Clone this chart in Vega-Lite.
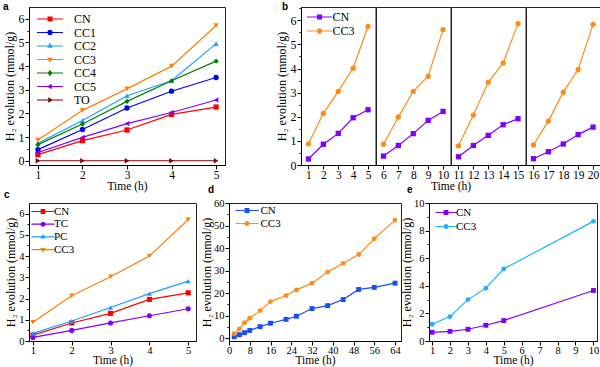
{
"$schema": "https://vega.github.io/schema/vega-lite/v6.json",
"autosize": {"type": "pad"},
"padding": {"left": 2, "top": 1, "right": 0, "bottom": 0},
"background": "white",
"config": {
  "font": "Liberation Serif",
  "view": {"stroke": "#222", "strokeWidth": 1},
  "axis": {"grid": false, "domainColor": "#000", "tickColor": "#000", "labelColor": "#000", "titleColor": "#000", "labelFont": "Liberation Serif", "titleFont": "Liberation Serif", "titleFontWeight": "normal", "labelFontSize": 12, "titleFontSize": 12, "tickSize": 4, "labelPadding": 1, "titlePadding": 2, "labelFlush": false, "labelOverlap": false, "labelBound": false},
  "axisX": {"titlePadding": 0, "labelPadding": 0, "titleFontWeight": "normal", "labelFontSize": 11.5, "titleFontSize": 11.5},
  "axisY": {"titleFontWeight": "normal"},
  "legend": {"labelFont": "Liberation Serif", "labelColor": "#000"},
  "title": {"font": "Liberation Sans", "fontSize": 10, "fontWeight": "bold", "color": "#000"}
},
"datasets": {
  "a": [
    {"s":"CN","t":1,"v":0.26},{"s":"CN","t":2,"v":0.85},{"s":"CN","t":3,"v":1.30},{"s":"CN","t":4,"v":1.96},{"s":"CN","t":5,"v":2.27},
    {"s":"CC1","t":1,"v":0.47},{"s":"CC1","t":2,"v":1.32},{"s":"CC1","t":3,"v":2.23},{"s":"CC1","t":4,"v":2.94},{"s":"CC1","t":5,"v":3.52},
    {"s":"CC2","t":1,"v":0.74},{"s":"CC2","t":2,"v":1.70},{"s":"CC2","t":3,"v":2.75},{"s":"CC2","t":4,"v":3.38},{"s":"CC2","t":5,"v":4.95},
    {"s":"CC3","t":1,"v":0.88},{"s":"CC3","t":2,"v":2.13},{"s":"CC3","t":3,"v":3.04},{"s":"CC3","t":4,"v":4.00},{"s":"CC3","t":5,"v":5.72},
    {"s":"CC4","t":1,"v":0.68},{"s":"CC4","t":2,"v":1.55},{"s":"CC4","t":3,"v":2.51},{"s":"CC4","t":4,"v":3.38},{"s":"CC4","t":5,"v":4.21},
    {"s":"CC5","t":1,"v":0.35},{"s":"CC5","t":2,"v":0.99},{"s":"CC5","t":3,"v":1.57},{"s":"CC5","t":4,"v":2.04},{"s":"CC5","t":5,"v":2.57},
    {"s":"TO","t":1,"v":0},{"s":"TO","t":2,"v":0},{"s":"TO","t":3,"v":0},{"s":"TO","t":4,"v":0},{"s":"TO","t":5,"v":0}
  ],
  "b": [
    {"p":1,"s":"CN","t":1,"v":0.25},{"p":1,"s":"CN","t":2,"v":0.86},{"p":1,"s":"CN","t":3,"v":1.31},{"p":1,"s":"CN","t":4,"v":1.96},{"p":1,"s":"CN","t":5,"v":2.29},
    {"p":1,"s":"CC3","t":1,"v":0.88},{"p":1,"s":"CC3","t":2,"v":2.14},{"p":1,"s":"CC3","t":3,"v":3.05},{"p":1,"s":"CC3","t":4,"v":4.01},{"p":1,"s":"CC3","t":5,"v":5.75},
    {"p":2,"s":"CN","t":6,"v":0.37},{"p":2,"s":"CN","t":7,"v":0.81},{"p":2,"s":"CN","t":8,"v":1.30},{"p":2,"s":"CN","t":9,"v":1.85},{"p":2,"s":"CN","t":10,"v":2.22},
    {"p":2,"s":"CC3","t":6,"v":0.86},{"p":2,"s":"CC3","t":7,"v":1.99},{"p":2,"s":"CC3","t":8,"v":3.05},{"p":2,"s":"CC3","t":9,"v":3.68},{"p":2,"s":"CC3","t":10,"v":5.61},
    {"p":3,"s":"CN","t":11,"v":0.34},{"p":3,"s":"CN","t":12,"v":0.81},{"p":3,"s":"CN","t":13,"v":1.23},{"p":3,"s":"CN","t":14,"v":1.67},{"p":3,"s":"CN","t":15,"v":1.92},
    {"p":3,"s":"CC3","t":11,"v":0.79},{"p":3,"s":"CC3","t":12,"v":2.07},{"p":3,"s":"CC3","t":13,"v":3.43},{"p":3,"s":"CC3","t":14,"v":4.23},{"p":3,"s":"CC3","t":15,"v":5.86},
    {"p":4,"s":"CN","t":16,"v":0.26},{"p":4,"s":"CN","t":17,"v":0.55},{"p":4,"s":"CN","t":18,"v":0.87},{"p":4,"s":"CN","t":19,"v":1.26},{"p":4,"s":"CN","t":20,"v":1.57},
    {"p":4,"s":"CC3","t":16,"v":0.83},{"p":4,"s":"CC3","t":17,"v":1.82},{"p":4,"s":"CC3","t":18,"v":3.02},{"p":4,"s":"CC3","t":19,"v":3.96},{"p":4,"s":"CC3","t":20,"v":5.83}
  ],
  "c": [
    {"s":"CN","t":1,"v":0.28},{"s":"CN","t":2,"v":0.85},{"s":"CN","t":3,"v":1.30},{"s":"CN","t":4,"v":1.96},{"s":"CN","t":5,"v":2.27},
    {"s":"TC","t":1,"v":0.17},{"s":"TC","t":2,"v":0.50},{"s":"TC","t":3,"v":0.85},{"s":"TC","t":4,"v":1.19},{"s":"TC","t":5,"v":1.52},
    {"s":"PC","t":1,"v":0.36},{"s":"PC","t":2,"v":0.94},{"s":"PC","t":3,"v":1.58},{"s":"PC","t":4,"v":2.23},{"s":"PC","t":5,"v":2.82},
    {"s":"CC3","t":1,"v":0.88},{"s":"CC3","t":2,"v":2.13},{"s":"CC3","t":3,"v":3.03},{"s":"CC3","t":4,"v":4.00},{"s":"CC3","t":5,"v":5.72}
  ],
  "d": [
    {"s":"CN","t":2,"v":0.6},{"s":"CN","t":4,"v":1.5},{"s":"CN","t":6,"v":2.4},{"s":"CN","t":8,"v":3.4},{"s":"CN","t":12,"v":5.1},{"s":"CN","t":16,"v":6.6},{"s":"CN","t":22,"v":8.3},{"s":"CN","t":26,"v":9.7},{"s":"CN","t":32,"v":13.1},{"s":"CN","t":38,"v":14.4},{"s":"CN","t":44,"v":17.1},{"s":"CN","t":50,"v":21.6},{"s":"CN","t":56,"v":22.5},{"s":"CN","t":64,"v":24.4},
    {"s":"CC3","t":2,"v":1.9},{"s":"CC3","t":4,"v":4.0},{"s":"CC3","t":6,"v":6.8},{"s":"CC3","t":8,"v":8.8},{"s":"CC3","t":12,"v":12.2},{"s":"CC3","t":16,"v":16.2},{"s":"CC3","t":22,"v":18.9},{"s":"CC3","t":26,"v":21.4},{"s":"CC3","t":32,"v":24.4},{"s":"CC3","t":38,"v":29.3},{"s":"CC3","t":44,"v":33.2},{"s":"CC3","t":50,"v":37.1},{"s":"CC3","t":56,"v":44.1},{"s":"CC3","t":64,"v":52.4}
  ],
  "e": [
    {"s":"CN","t":1,"v":0.63},{"s":"CN","t":2,"v":0.70},{"s":"CN","t":3,"v":0.85},{"s":"CN","t":4,"v":1.14},{"s":"CN","t":5,"v":1.48},{"s":"CN","t":10,"v":3.66},
    {"s":"CC3","t":1,"v":1.21},{"s":"CC3","t":2,"v":1.77},{"s":"CC3","t":3,"v":3.00},{"s":"CC3","t":4,"v":3.83},{"s":"CC3","t":5,"v":5.23},{"s":"CC3","t":10,"v":8.67}
  ]
},
"spacing": -9,
"resolve": {"scale": {"color": "independent", "fill": "independent", "shape": "independent"}, "legend": {"color": "independent", "fill": "independent", "shape": "independent"}},
"vconcat": [
 {
  "bounds": "flush",
  "spacing": 76,
  "resolve": {"scale": {"color": "independent", "fill": "independent", "shape": "independent"}, "legend": {"color": "independent", "fill": "independent", "shape": "independent"}},
  "hconcat": [
   {
    "width": 196, "height": 158,
    "data": {"name": "a"},
    "title": {"text": "a", "anchor": "start", "frame": "group", "offset": -5, "dx": -26},
    "layer": [
     {"mark": {"type": "line", "strokeWidth": 1.2},
      "encoding": {
       "x": {"field":"t","type":"quantitative","scale":{"domain":[0.8,5.2],"nice":false,"zero":false},"axis":{"values":[1,2,3,4,5],"title":"Time (h)"}},
       "y": {"field":"v","type":"quantitative","scale":{"domain":[-0.18,6.5],"nice":false,"zero":false},"axis":{"values":[0,1,2,3,4,5,6],"title":"H₂ evolution (mmol/g)","orient":"left"}},
       "color": {"field":"s","type":"nominal","scale":{"domain":["CN","CC1","CC2","CC3","CC4","CC5","TO"],"range":["#ff0000","#0000ff","#1ea0ff","#ff8000","#008000","#8000ff","#800000"]},"legend":null}
      }},
     {"mark": {"type": "point", "filled": true, "size": 28, "opacity": 1},
      "encoding": {
       "x": {"field":"t","type":"quantitative","scale":{"domain":[0.8,5.2],"nice":false,"zero":false},"axis":{"values":[1,2,3,4,5],"title":"Time (h)"}},
       "y": {"field":"v","type":"quantitative","scale":{"domain":[-0.18,6.5],"nice":false,"zero":false},"axis":null},
       "color": {"field":"s","type":"nominal","scale":{"domain":["CN","CC1","CC2","CC3","CC4","CC5","TO"],"range":["#ff0000","#0000ff","#1ea0ff","#ff8000","#008000","#8000ff","#800000"]},"legend":null},
       "shape": {"field":"s","type":"nominal","scale":{"domain":["CN","CC1","CC2","CC3","CC4","CC5","TO"],"range":["square","circle","triangle-up","triangle-down","diamond","triangle-left","triangle-right"]},"legend":null}
      }},
     {"mark": {"type": "point", "filled": true, "size": 36, "opacity": 0},
      "encoding": {
       "x": {"field":"t","type":"quantitative","scale":{"domain":[0.8,5.2],"nice":false,"zero":false},"axis":{"values":[1,2,3,4,5],"title":"Time (h)"}},
       "y": {"field":"v","type":"quantitative","scale":{"domain":[-0.18,6.5],"nice":false,"zero":false},"axis":{"values":[0.5,1.5,2.5,3.5,4.5,5.5],"labels":false,"domain":false,"tickSize":2,"title":null,"orient":"left","grid":false}},
       "fill": {"field":"s","type":"nominal","scale":{"domain":["CN","CC1","CC2","CC3","CC4","CC5","TO"],"range":["#ff0000","#0000ff","#1ea0ff","#ff8000","#008000","#8000ff","#800000"]},
                "legend":{"orient":"none","legendX":5,"legendY":6,"title":null,"symbolSize":36,"symbolOpacity":1,"symbolStrokeWidth":0,"symbolOffset":10,"labelFontSize":12,"labelOffset":18,"rowPadding":1.5,"padding":0}},
       "shape": {"field":"s","type":"nominal","scale":{"domain":["CN","CC1","CC2","CC3","CC4","CC5","TO"],"range":[
         "M-4.33,-0.2H4.33V0.2H-4.33ZM-0.85,-0.85H0.85V0.85H-0.85Z",
         "M-4.33,-0.2H4.33V0.2H-4.33ZM0.9,0A0.9,0.9,0,1,1,-0.9,0A0.9,0.9,0,1,1,0.9,0Z",
         "M-4.33,-0.2H4.33V0.2H-4.33ZM0,-1.05L0.95,0.6L-0.95,0.6Z",
         "M-4.33,-0.2H4.33V0.2H-4.33ZM0,1.05L-0.95,-0.6L0.95,-0.6Z",
         "M-4.33,-0.2H4.33V0.2H-4.33ZM0,-1.1L0.8,0L0,1.1L-0.8,0Z",
         "M-4.33,-0.2H4.33V0.2H-4.33ZM-1.05,0L0.6,-0.95L0.6,0.95Z",
         "M-4.33,-0.2H4.33V0.2H-4.33ZM1.05,0L-0.6,0.95L-0.6,-0.95Z"]},
                "legend":{"orient":"none","legendX":5,"legendY":6,"title":null,"symbolSize":36,"symbolOpacity":1,"symbolStrokeWidth":0,"symbolOffset":10,"labelFontSize":12,"labelOffset":18,"rowPadding":1.5,"padding":0}}
      }}
    ],
    "resolve": {"scale": {"shape": "independent", "fill": "independent"}, "axis": {"y": "independent"}}
   },
   {
    "bounds": "flush",
    "spacing": 0,
    "resolve": {"scale": {"color": "independent", "fill": "independent", "shape": "independent"}, "legend": {"color": "independent", "fill": "independent", "shape": "independent"}},
    "hconcat": [
     {
      "width": 74.5, "height": 158,
      "data": {"name": "b"},
      "transform": [{"filter": "datum.p == 1"}],
      "title": {"text": "b", "anchor": "start", "frame": "group", "offset": -5, "dx": -19},
      "layer": [
       {"mark": {"type": "line", "strokeWidth": 1.2},
        "encoding": {
         "x": {"field":"t","type":"quantitative","scale":{"domain":[0.5,5.5],"nice":false,"zero":false},"axis":{"values":[1,2,3,4,5],"title":null}},
         "y": {"field":"v","type":"quantitative","scale":{"domain":[0,6.55],"nice":false,"zero":false},"axis":{"values":[0,1,2,3,4,5,6],"title":"H₂ evolution (mmol/g)","orient":"left"}},
         "color": {"field":"s","type":"nominal","scale":{"domain":["CN","CC3"],"range":["#8000ff","#ff8c1a"]},"legend":null}
        }},
       {"mark": {"type": "point", "filled": true, "size": 28, "opacity": 1},
        "encoding": {
         "x": {"field":"t","type":"quantitative","scale":{"domain":[0.5,5.5],"nice":false,"zero":false},"axis":{"values":[1,2,3,4,5],"title":null}},
         "y": {"field":"v","type":"quantitative","scale":{"domain":[0,6.55],"nice":false,"zero":false},"axis":null},
         "color": {"field":"s","type":"nominal","scale":{"domain":["CN","CC3"],"range":["#8000ff","#ff8c1a"]},"legend":null},
         "shape": {"field":"s","type":"nominal","scale":{"domain":["CN","CC3"],"range":["square","circle"]},"legend":null}
        }},
       {"mark": {"type": "point", "filled": true, "size": 36, "opacity": 0},
        "encoding": {
         "x": {"field":"t","type":"quantitative","scale":{"domain":[0.5,5.5],"nice":false,"zero":false},"axis":{"values":[1,2,3,4,5],"title":null}},
         "y": {"field":"v","type":"quantitative","scale":{"domain":[0,6.55],"nice":false,"zero":false},"axis":{"values":[0.5,1.5,2.5,3.5,4.5,5.5,6.5],"labels":false,"domain":false,"tickSize":2,"title":null,"orient":"left","grid":false}},
         "fill": {"field":"s","type":"nominal","scale":{"domain":["CN","CC3"],"range":["#8000ff","#ff8c1a"]},
                  "legend":{"orient":"none","legendX":3,"legendY":4,"title":null,"symbolSize":36,"symbolOpacity":1,"symbolStrokeWidth":0,"symbolOffset":9.5,"labelFontSize":12,"labelOffset":7,"rowPadding":2,"padding":0}},
         "shape": {"field":"s","type":"nominal","scale":{"domain":["CN","CC3"],"range":[
           "M-4.17,-0.2H4.17V0.2H-4.17ZM-0.85,-0.85H0.85V0.85H-0.85Z",
           "M-4.17,-0.2H4.17V0.2H-4.17ZM0.9,0A0.9,0.9,0,1,1,-0.9,0A0.9,0.9,0,1,1,0.9,0Z"]},
                  "legend":{"orient":"none","legendX":3,"legendY":4,"title":null,"symbolSize":36,"symbolOpacity":1,"symbolStrokeWidth":0,"symbolOffset":9.5,"labelFontSize":12,"labelOffset":7,"rowPadding":2,"padding":0}}
        }}
      ],
      "resolve": {"scale": {"shape": "independent", "fill": "independent"}, "axis": {"y": "independent"}}
     },
     {
      "width": 74.5, "height": 158,
      "data": {"name": "b"},
      "transform": [{"filter": "datum.p == 2"}],
      "layer": [
       {"mark": {"type": "line", "strokeWidth": 1.2},
        "encoding": {
         "x": {"field":"t","type":"quantitative","scale":{"domain":[5.5,10.5],"nice":false,"zero":false},"axis":{"values":[6,7,8,9,10],"title":"Time (h)","titleAnchor":"end","titleAlign":"center"}},
         "y": {"field":"v","type":"quantitative","scale":{"domain":[0,6.55],"nice":false,"zero":false},"axis":null},
         "color": {"field":"s","type":"nominal","scale":{"domain":["CN","CC3"],"range":["#8000ff","#ff8c1a"]},"legend":null}
        }},
       {"mark": {"type": "point", "filled": true, "size": 28, "opacity": 1},
        "encoding": {
         "x": {"field":"t","type":"quantitative","scale":{"domain":[5.5,10.5],"nice":false,"zero":false},"axis":{"values":[6,7,8,9,10],"title":"Time (h)","titleAnchor":"end","titleAlign":"center"}},
         "y": {"field":"v","type":"quantitative","scale":{"domain":[0,6.55],"nice":false,"zero":false},"axis":null},
         "color": {"field":"s","type":"nominal","scale":{"domain":["CN","CC3"],"range":["#8000ff","#ff8c1a"]},"legend":null},
         "shape": {"field":"s","type":"nominal","scale":{"domain":["CN","CC3"],"range":["square","circle"]},"legend":null}
        }}
      ]
     },
     {
      "width": 74.5, "height": 158,
      "data": {"name": "b"},
      "transform": [{"filter": "datum.p == 3"}],
      "layer": [
       {"mark": {"type": "line", "strokeWidth": 1.2},
        "encoding": {
         "x": {"field":"t","type":"quantitative","scale":{"domain":[10.5,15.5],"nice":false,"zero":false},"axis":{"values":[11,12,13,14,15],"title":null}},
         "y": {"field":"v","type":"quantitative","scale":{"domain":[0,6.55],"nice":false,"zero":false},"axis":null},
         "color": {"field":"s","type":"nominal","scale":{"domain":["CN","CC3"],"range":["#8000ff","#ff8c1a"]},"legend":null}
        }},
       {"mark": {"type": "point", "filled": true, "size": 28, "opacity": 1},
        "encoding": {
         "x": {"field":"t","type":"quantitative","scale":{"domain":[10.5,15.5],"nice":false,"zero":false},"axis":{"values":[11,12,13,14,15],"title":null}},
         "y": {"field":"v","type":"quantitative","scale":{"domain":[0,6.55],"nice":false,"zero":false},"axis":null},
         "color": {"field":"s","type":"nominal","scale":{"domain":["CN","CC3"],"range":["#8000ff","#ff8c1a"]},"legend":null},
         "shape": {"field":"s","type":"nominal","scale":{"domain":["CN","CC3"],"range":["square","circle"]},"legend":null}
        }}
      ]
     },
     {
      "width": 74.5, "height": 158,
      "data": {"name": "b"},
      "transform": [{"filter": "datum.p == 4"}],
      "layer": [
       {"mark": {"type": "line", "strokeWidth": 1.2},
        "encoding": {
         "x": {"field":"t","type":"quantitative","scale":{"domain":[15.5,20.5],"nice":false,"zero":false},"axis":{"values":[16,17,18,19,20],"title":null}},
         "y": {"field":"v","type":"quantitative","scale":{"domain":[0,6.55],"nice":false,"zero":false},"axis":null},
         "color": {"field":"s","type":"nominal","scale":{"domain":["CN","CC3"],"range":["#8000ff","#ff8c1a"]},"legend":null}
        }},
       {"mark": {"type": "point", "filled": true, "size": 28, "opacity": 1},
        "encoding": {
         "x": {"field":"t","type":"quantitative","scale":{"domain":[15.5,20.5],"nice":false,"zero":false},"axis":{"values":[16,17,18,19,20],"title":null}},
         "y": {"field":"v","type":"quantitative","scale":{"domain":[0,6.55],"nice":false,"zero":false},"axis":null},
         "color": {"field":"s","type":"nominal","scale":{"domain":["CN","CC3"],"range":["#8000ff","#ff8c1a"]},"legend":null},
         "shape": {"field":"s","type":"nominal","scale":{"domain":["CN","CC3"],"range":["square","circle"]},"legend":null}
        }}
      ]
     }
    ]
   }
  ]
 },
 {
  "bounds": "flush",
  "spacing": 33,
  "resolve": {"scale": {"color": "independent", "fill": "independent", "shape": "independent"}, "legend": {"color": "independent", "fill": "independent", "shape": "independent"}},
  "hconcat": [
   {
    "width": 167, "height": 138,
    "data": {"name": "c"},
    "title": {"text": "c", "anchor": "start", "frame": "group", "offset": 3, "dx": -25},
    "layer": [
     {"mark": {"type": "line", "strokeWidth": 1.2},
      "encoding": {
       "x": {"field":"t","type":"quantitative","scale":{"domain":[0.9,5.2],"nice":false,"zero":false},"axis":{"values":[1,2,3,4,5],"title":"Time (h)","labelFontSize":10.5,"titleFontSize":11.5,"titlePadding":-1}},
       "y": {"field":"v","type":"quantitative","scale":{"domain":[0,6.5],"nice":false,"zero":false},"axis":{"values":[0,1,2,3,4,5,6],"title":"H₂ evolution (mmol/g)","orient":"left","labelFontSize":10.5,"titleFontSize":12,"titlePadding":1}},
       "color": {"field":"s","type":"nominal","scale":{"domain":["CN","TC","PC","CC3"],"range":["#ff0000","#8000ff","#1ea0ff","#ff8000"]},"legend":null}
      }},
     {"mark": {"type": "point", "filled": true, "size": 26, "opacity": 1},
      "encoding": {
       "x": {"field":"t","type":"quantitative","scale":{"domain":[0.9,5.2],"nice":false,"zero":false},"axis":{"values":[1,2,3,4,5],"title":"Time (h)","labelFontSize":10.5,"titleFontSize":11.5,"titlePadding":-1}},
       "y": {"field":"v","type":"quantitative","scale":{"domain":[0,6.5],"nice":false,"zero":false},"axis":null},
       "color": {"field":"s","type":"nominal","scale":{"domain":["CN","TC","PC","CC3"],"range":["#ff0000","#8000ff","#1ea0ff","#ff8000"]},"legend":null},
       "shape": {"field":"s","type":"nominal","scale":{"domain":["CN","TC","PC","CC3"],"range":["square","circle","triangle-up","triangle-down"]},"legend":null}
      }},
     {"mark": {"type": "point", "filled": true, "size": 36, "opacity": 0},
      "encoding": {
       "x": {"field":"t","type":"quantitative","scale":{"domain":[0.9,5.2],"nice":false,"zero":false},"axis":{"values":[1,2,3,4,5],"title":"Time (h)","labelFontSize":10.5,"titleFontSize":11.5,"titlePadding":-1}},
       "y": {"field":"v","type":"quantitative","scale":{"domain":[0,6.5],"nice":false,"zero":false},"axis":{"values":[0.5,1.5,2.5,3.5,4.5,5.5],"labels":false,"domain":false,"tickSize":2,"title":null,"orient":"left","grid":false}},
       "fill": {"field":"s","type":"nominal","scale":{"domain":["CN","TC","PC","CC3"],"range":["#ff0000","#8000ff","#1ea0ff","#ff8000"]},
                "legend":{"orient":"none","legendX":0,"legendY":3,"title":null,"symbolSize":36,"symbolOpacity":1,"symbolStrokeWidth":0,"symbolOffset":8.5,"labelFontSize":11,"labelOffset":5.5,"rowPadding":0.7,"padding":0}},
       "shape": {"field":"s","type":"nominal","scale":{"domain":["CN","TC","PC","CC3"],"range":[
         "M-3.83,-0.2H3.83V0.2H-3.83ZM-0.8,-0.8H0.8V0.8H-0.8Z",
         "M-3.83,-0.2H3.83V0.2H-3.83ZM0.85,0A0.85,0.85,0,1,1,-0.85,0A0.85,0.85,0,1,1,0.85,0Z",
         "M-3.83,-0.2H3.83V0.2H-3.83ZM0,-1L0.9,0.57L-0.9,0.57Z",
         "M-3.83,-0.2H3.83V0.2H-3.83ZM0,1L-0.9,-0.57L0.9,-0.57Z"]},
                "legend":{"orient":"none","legendX":0,"legendY":3,"title":null,"symbolSize":36,"symbolOpacity":1,"symbolStrokeWidth":0,"symbolOffset":8.5,"labelFontSize":11,"labelOffset":5.5,"rowPadding":0.7,"padding":0}}
      }}
    ],
    "resolve": {"scale": {"shape": "independent", "fill": "independent"}, "axis": {"y": "independent"}}
   },
   {
    "bounds": "flush",
    "spacing": 28,
    "resolve": {"scale": {"color": "independent", "fill": "independent", "shape": "independent"}, "legend": {"color": "independent", "fill": "independent", "shape": "independent"}},
    "hconcat": [
     {
      "width": 172, "height": 138,
      "data": {"name": "d"},
      "title": {"text": "d", "anchor": "start", "frame": "group", "offset": 3, "dx": -21},
      "layer": [
       {"mark": {"type": "line", "strokeWidth": 1.2},
        "encoding": {
         "x": {"field":"t","type":"quantitative","scale":{"domain":[0,66.3],"nice":false,"zero":false},"axis":{"values":[0,8,16,24,32,40,48,56,64],"title":"Time (h)","labelFontSize":10.5,"titleFontSize":11.5,"titlePadding":-1}},
         "y": {"field":"v","type":"quantitative","scale":{"domain":[-1.3,60],"nice":false,"zero":false},"axis":{"values":[0,10,20,30,40,50,60],"title":"H₂ evolution (mmol/g)","orient":"left","labelFontSize":10.5,"titleFontSize":12,"titlePadding":0}},
         "color": {"field":"s","type":"nominal","scale":{"domain":["CN","CC3"],"range":["#1a4cff","#ff8c1a"]},"legend":null}
        }},
       {"mark": {"type": "point", "filled": true, "size": 24, "opacity": 1},
        "encoding": {
         "x": {"field":"t","type":"quantitative","scale":{"domain":[0,66.3],"nice":false,"zero":false},"axis":{"values":[0,8,16,24,32,40,48,56,64],"title":"Time (h)","labelFontSize":10.5,"titleFontSize":11.5,"titlePadding":-1}},
         "y": {"field":"v","type":"quantitative","scale":{"domain":[-1.3,60],"nice":false,"zero":false},"axis":null},
         "color": {"field":"s","type":"nominal","scale":{"domain":["CN","CC3"],"range":["#1a4cff","#ff8c1a"]},"legend":null},
         "shape": {"field":"s","type":"nominal","scale":{"domain":["CN","CC3"],"range":["square","circle"]},"legend":null}
        }},
       {"mark": {"type": "point", "filled": true, "size": 36, "opacity": 0},
        "encoding": {
         "x": {"field":"t","type":"quantitative","scale":{"domain":[0,66.3],"nice":false,"zero":false},"axis":{"values":[0,8,16,24,32,40,48,56,64],"title":"Time (h)","labelFontSize":10.5,"titleFontSize":11.5,"titlePadding":-1}},
         "y": {"field":"v","type":"quantitative","scale":{"domain":[-1.3,60],"nice":false,"zero":false},"axis":{"values":[5,15,25,35,45,55],"labels":false,"domain":false,"tickSize":2,"title":null,"orient":"left","grid":false}},
         "fill": {"field":"s","type":"nominal","scale":{"domain":["CN","CC3"],"range":["#1a4cff","#ff8c1a"]},
                  "legend":{"orient":"none","legendX":4,"legendY":2,"title":null,"symbolSize":36,"symbolOpacity":1,"symbolStrokeWidth":0,"symbolOffset":8.5,"labelFontSize":11,"labelOffset":8,"rowPadding":1,"padding":0}},
         "shape": {"field":"s","type":"nominal","scale":{"domain":["CN","CC3"],"range":[
           "M-3.83,-0.2H3.83V0.2H-3.83ZM-0.8,-0.8H0.8V0.8H-0.8Z",
           "M-3.83,-0.2H3.83V0.2H-3.83ZM0.85,0A0.85,0.85,0,1,1,-0.85,0A0.85,0.85,0,1,1,0.85,0Z"]},
                  "legend":{"orient":"none","legendX":4,"legendY":2,"title":null,"symbolSize":36,"symbolOpacity":1,"symbolStrokeWidth":0,"symbolOffset":8.5,"labelFontSize":11,"labelOffset":8,"rowPadding":1,"padding":0}}
        }}
      ],
      "resolve": {"scale": {"shape": "independent", "fill": "independent"}, "axis": {"y": "independent"}}
     },
     {
      "width": 168, "height": 138,
      "data": {"name": "e"},
      "title": {"text": "e", "anchor": "start", "frame": "group", "offset": 3, "dx": -22},
      "layer": [
       {"mark": {"type": "line", "strokeWidth": 1.2},
        "encoding": {
         "x": {"field":"t","type":"quantitative","scale":{"domain":[0.83,10.2],"nice":false,"zero":false},"axis":{"values":[1,2,3,4,5,6,7,8,9,10],"title":"Time (h)","labelFontSize":10.5,"titleFontSize":11.5,"titlePadding":-1}},
         "y": {"field":"v","type":"quantitative","scale":{"domain":[0,10],"nice":false,"zero":false},"axis":{"values":[0,2,4,6,8,10],"title":"H₂ evolution (mmol/g)","orient":"left","labelFontSize":10.5,"titleFontSize":12,"titlePadding":0}},
         "color": {"field":"s","type":"nominal","scale":{"domain":["CN","CC3"],"range":["#8000ff","#1ab2ff"]},"legend":null}
        }},
       {"mark": {"type": "point", "filled": true, "size": 24, "opacity": 1},
        "encoding": {
         "x": {"field":"t","type":"quantitative","scale":{"domain":[0.83,10.2],"nice":false,"zero":false},"axis":{"values":[1,2,3,4,5,6,7,8,9,10],"title":"Time (h)","labelFontSize":10.5,"titleFontSize":11.5,"titlePadding":-1}},
         "y": {"field":"v","type":"quantitative","scale":{"domain":[0,10],"nice":false,"zero":false},"axis":null},
         "color": {"field":"s","type":"nominal","scale":{"domain":["CN","CC3"],"range":["#8000ff","#1ab2ff"]},"legend":null},
         "shape": {"field":"s","type":"nominal","scale":{"domain":["CN","CC3"],"range":["square","circle"]},"legend":null}
        }},
       {"mark": {"type": "point", "filled": true, "size": 36, "opacity": 0},
        "encoding": {
         "x": {"field":"t","type":"quantitative","scale":{"domain":[0.83,10.2],"nice":false,"zero":false},"axis":{"values":[1,2,3,4,5,6,7,8,9,10],"title":"Time (h)","labelFontSize":10.5,"titleFontSize":11.5,"titlePadding":-1}},
         "y": {"field":"v","type":"quantitative","scale":{"domain":[0,10],"nice":false,"zero":false},"axis":{"values":[1,3,5,7,9],"labels":false,"domain":false,"tickSize":2,"title":null,"orient":"left","grid":false}},
         "fill": {"field":"s","type":"nominal","scale":{"domain":["CN","CC3"],"range":["#8000ff","#1ab2ff"]},
                  "legend":{"orient":"none","legendX":4,"legendY":4,"title":null,"symbolSize":36,"symbolOpacity":1,"symbolStrokeWidth":0,"symbolOffset":7.5,"labelFontSize":11,"labelOffset":4.5,"rowPadding":2,"padding":0}},
         "shape": {"field":"s","type":"nominal","scale":{"domain":["CN","CC3"],"range":[
           "M-3.5,-0.2H3.5V0.2H-3.5ZM-0.8,-0.8H0.8V0.8H-0.8Z",
           "M-3.5,-0.2H3.5V0.2H-3.5ZM0.85,0A0.85,0.85,0,1,1,-0.85,0A0.85,0.85,0,1,1,0.85,0Z"]},
                  "legend":{"orient":"none","legendX":4,"legendY":4,"title":null,"symbolSize":36,"symbolOpacity":1,"symbolStrokeWidth":0,"symbolOffset":7.5,"labelFontSize":11,"labelOffset":4.5,"rowPadding":2,"padding":0}}
        }}
      ],
      "resolve": {"scale": {"shape": "independent", "fill": "independent"}, "axis": {"y": "independent"}}
     }
    ]
   }
  ]
 }
]
}
